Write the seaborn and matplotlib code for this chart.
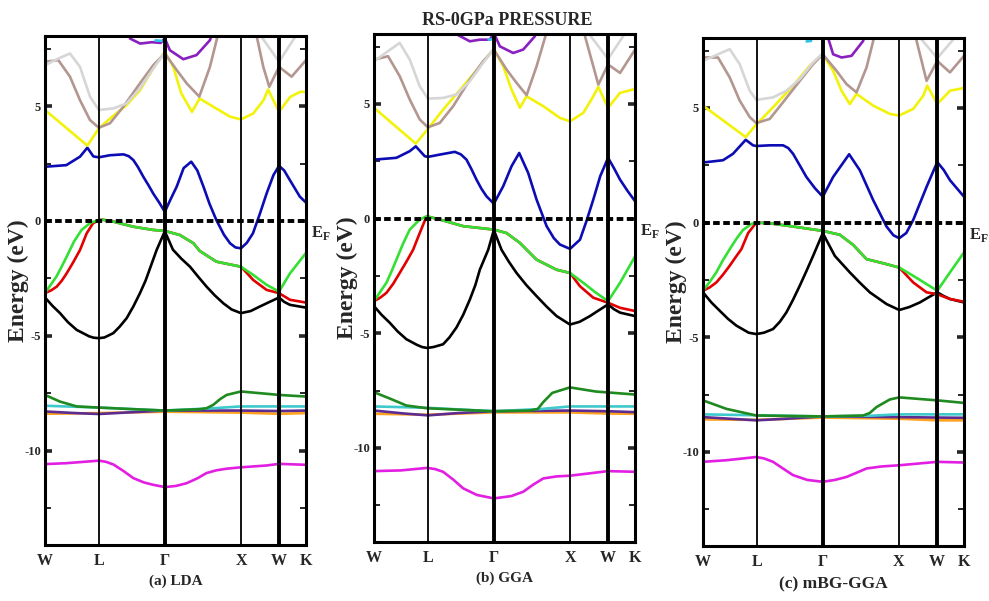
import numpy as np
import pandas as pd
import seaborn as sns
import matplotlib.pyplot as plt
from matplotlib.ticker import MultipleLocator
import matplotlib.transforms as mtransforms

# high symmetry points, path length along W-L-G-X-W-K (2pi/a units)
kpath_labels = ['W', 'L', 'Γ', 'X', 'W', 'K']
kpath_pos = [0.0, 0.707, 1.573, 2.573, 3.073, 3.427]
panel_titles = ['(a) LDA', '(b) GGA', '(c) mBG-GGA']
fig_title = 'RS-0GPa PRESSURE'

band_colors = {
    'magenta': '#e31ee3', 'orange': '#ffa21e', 'violet': '#5c2c92',
    'cyan': '#3ec9cc', 'dkgreen': '#1f8a1f', 'black': '#000000',
    'red': '#e30000', 'green': '#33e033', 'blue': '#0c0cb4',
    'yellow': '#f2f20a', 'brown': '#b39690', 'brown2': '#b39690',
    'gray': '#d6d6d6', 'gray2': '#d6d6d6', 'purple': '#8a1fbf',
    'cyantop': '#2ec6e8',
}

# ---------------- (a) LDA ----------------
lda_magenta = [(0, -10.58), (0.28, -10.54), (0.707, -10.43), (0.8, -10.48), (0.9, -10.6), (1.03, -10.88),
               (1.16, -11.19), (1.3, -11.38), (1.42, -11.48), (1.573, -11.58), (1.72, -11.53), (1.86, -11.41),
               (2.0, -11.2), (2.12, -10.97), (2.25, -10.85), (2.385, -10.78), (2.573, -10.72),
               (2.91, -10.64), (3.073, -10.57), (3.427, -10.61)]
lda_orange = [(0, -8.39), (0.707, -8.36), (1.573, -8.3), (2.573, -8.34), (3.073, -8.39), (3.427, -8.36)]
lda_violet = [(0, -8.29), (0.4, -8.36), (0.707, -8.4), (1.1, -8.33), (1.573, -8.25), (2.573, -8.25),
              (3.073, -8.27), (3.427, -8.25)]
lda_cyan = [(0, -8.04), (0.707, -8.12), (1.573, -8.25), (2.2, -8.15), (2.573, -8.07), (3.073, -8.07), (3.427, -8.07)]
lda_dkgreen = [(0, -7.57), (0.197, -7.86), (0.416, -8.07), (0.707, -8.12), (1.16, -8.19), (1.573, -8.25),
               (2.035, -8.19), (2.12, -8.15), (2.21, -8.0), (2.3, -7.75), (2.385, -7.57), (2.573, -7.42),
               (2.91, -7.52), (3.073, -7.57), (3.427, -7.64)]
lda_black = [(0, -3.33), (0.1, -3.7), (0.197, -4.01), (0.3, -4.4), (0.416, -4.74), (0.58, -5.02), (0.64, -5.08),
             (0.707, -5.1), (0.78, -5.07), (0.897, -4.88), (0.98, -4.6), (1.072, -4.23), (1.16, -3.72),
             (1.247, -3.14), (1.32, -2.6), (1.379, -2.06), (1.466, -1.26), (1.573, -0.45), (1.68, -1.25),
             (1.79, -1.64), (1.904, -1.99), (2.01, -2.42), (2.122, -2.86), (2.23, -3.24), (2.341, -3.58),
             (2.45, -3.85), (2.573, -4.01), (2.7, -3.92), (2.823, -3.72), (2.95, -3.52), (3.073, -3.33),
             (3.14, -3.52), (3.217, -3.65), (3.427, -3.77)]
lda_green = [(0, -3.14), (0.07, -2.8), (0.15, -2.42), (0.22, -1.98), (0.285, -1.55), (0.38, -0.9), (0.48, -0.39),
             (0.6, -0.07), (0.707, 0.03), (0.75, 0.06), (0.9, -0.03), (1.16, -0.25), (1.42, -0.39),
             (1.573, -0.43), (1.77, -0.61), (1.95, -0.97), (2.03, -1.3), (2.25, -1.77), (2.573, -1.99),
             (2.735, -2.35), (2.91, -2.78), (3.073, -3.07), (3.217, -2.28), (3.427, -1.39)]
lda_red_wl = [(0, -3.14), (0.08, -3.02), (0.153, -2.86), (0.22, -2.6), (0.284, -2.28), (0.37, -1.8),
              (0.46, -1.26), (0.547, -0.54), (0.63, -0.1), (0.707, 0.03)]
lda_red_xk = [(2.573, -1.99), (2.735, -2.57), (2.91, -3.0), (3.073, -3.14), (3.217, -3.43), (3.427, -3.55)]
lda_blue = [(0, 2.36), (0.28, 2.43), (0.46, 2.8), (0.556, 3.19), (0.635, 2.81), (0.707, 2.77), (0.85, 2.86),
            (1.03, 2.9), (1.1, 2.82), (1.16, 2.65), (1.22, 2.35), (1.29, 1.93), (1.36, 1.55), (1.42, 1.2),
            (1.5, 0.8), (1.573, 0.4), (1.65, 0.95), (1.73, 1.5), (1.82, 2.3), (1.92, 2.58), (2.0, 2.2),
            (2.08, 1.5), (2.16, 0.75), (2.25, 0.04), (2.35, -0.6), (2.43, -0.97), (2.5, -1.15),
            (2.573, -1.19), (2.65, -0.95), (2.73, -0.54), (2.82, 0.3), (2.91, 1.2), (3.0, 2.0), (3.073, 2.4),
            (3.14, 2.2), (3.215, 1.78), (3.346, 1.06), (3.427, 0.8)]
lda_yellow = [(0, 4.83), (0.556, 3.28), (0.707, 4.03), (0.85, 4.45), (1.07, 5.04), (1.25, 5.7), (1.42, 6.64),
              (1.573, 7.36), (1.685, 6.7), (1.79, 5.55), (1.93, 4.75), (2.03, 5.33), (2.21, 4.97), (2.43, 4.54),
              (2.573, 4.42), (2.735, 4.68), (2.87, 5.26), (2.93, 5.72), (3.073, 4.75), (3.22, 5.4), (3.35, 5.62),
              (3.427, 5.62)]
lda_brown = [(0, 6.93), (0.175, 7.0), (0.328, 6.28), (0.459, 5.26), (0.591, 4.39), (0.707, 4.06), (0.853, 4.25),
             (1.028, 4.97), (1.247, 5.99), (1.422, 6.78), (1.573, 7.29), (1.729, 6.57), (1.86, 5.99),
             (2.026, 5.41), (2.166, 6.71), (2.3, 8.5)]
lda_brown2 = [(2.75, 8.5), (2.866, 6.71), (2.945, 5.84), (3.073, 6.71), (3.238, 6.28), (3.427, 7.0)]
lda_gray = [(0, 6.78), (0.175, 7.07), (0.328, 7.29), (0.459, 6.71), (0.591, 5.41), (0.707, 4.83), (0.9, 4.9),
            (1.072, 5.12), (1.247, 5.77), (1.422, 6.64), (1.573, 7.33)]
lda_gray2 = [(2.74, 8.5), (3.073, 6.93), (3.38, 8.5)]
lda_purple = [(1.116, 7.94), (1.25, 7.72), (1.4, 7.78), (1.52, 7.75), (1.573, 7.95), (1.64, 7.43), (1.816, 7.04),
              (1.99, 7.22), (2.166, 7.87), (2.21, 8.3)]
lda_cyantop = [(1.45, 7.86), (1.53, 7.84)]

# ---------------- (b) GGA ----------------
gga_magenta = [(0, -11.01), (0.35, -10.98), (0.697, -10.87), (0.8, -10.92), (0.907, -11.04), (1.04, -11.38),
               (1.17, -11.76), (1.35, -12.05), (1.573, -12.2), (1.8, -12.1), (1.959, -11.91), (2.09, -11.6),
               (2.222, -11.33), (2.4, -11.24), (2.573, -11.21), (3.073, -11.01), (3.427, -11.04)]
gga_orange = [(0, -8.51), (0.707, -8.55), (1.573, -8.45), (2.573, -8.45), (3.073, -8.5), (3.427, -8.51)]
gga_violet = [(0, -8.37), (0.4, -8.5), (0.707, -8.58), (1.1, -8.48), (1.573, -8.4), (2.573, -8.37),
              (3.073, -8.4), (3.427, -8.44)]
gga_cyan = [(0, -8.19), (0.707, -8.25), (1.573, -8.4), (2.2, -8.3), (2.573, -8.19), (3.427, -8.19)]
gga_dkgreen = [(0, -7.57), (0.21, -7.85), (0.425, -8.15), (0.697, -8.27), (1.573, -8.4), (2.046, -8.37),
               (2.15, -8.3), (2.222, -8.0), (2.34, -7.6), (2.573, -7.36), (2.91, -7.54), (3.427, -7.67)]
gga_black = [(0, -3.82), (0.1, -4.2), (0.206, -4.54), (0.31, -4.92), (0.425, -5.26), (0.56, -5.5), (0.63, -5.6),
             (0.697, -5.64), (0.78, -5.6), (0.907, -5.48), (0.99, -5.18), (1.082, -4.75), (1.17, -4.2),
             (1.258, -3.53), (1.33, -2.9), (1.389, -2.23), (1.499, -1.36), (1.573, -0.5), (1.674, -1.36),
             (1.77, -1.88), (1.871, -2.37), (2.0, -2.9), (2.134, -3.38), (2.27, -3.85), (2.397, -4.25),
             (2.573, -4.62), (2.7, -4.5), (2.835, -4.25), (2.96, -3.98), (3.073, -3.74), (3.15, -3.95),
             (3.23, -4.1), (3.427, -4.25)]
gga_green = [(0, -3.6), (0.08, -3.2), (0.162, -2.8), (0.23, -2.3), (0.294, -1.79), (0.38, -1.1), (0.469, -0.48),
             (0.6, -0.04), (0.69, 0.1), (0.863, -0.04), (1.17, -0.33), (1.573, -0.48), (1.74, -0.63),
             (1.915, -1.06), (2.134, -1.79), (2.397, -2.23), (2.573, -2.37), (2.748, -2.8), (2.9, -3.2),
             (3.073, -3.6), (3.23, -2.8), (3.427, -1.65)]
gga_red_wl = [(0, -3.6), (0.08, -3.45), (0.162, -3.24), (0.25, -2.85), (0.337, -2.37), (0.43, -1.85),
              (0.513, -1.36), (0.6, -0.63), (0.69, 0.1)]
gga_red_xk = [(2.573, -2.37), (2.704, -2.95), (2.879, -3.45), (3.073, -3.67), (3.23, -3.89), (3.427, -4.03)]
gga_blue = [(0, 2.57), (0.294, 2.65), (0.469, 2.94), (0.548, 3.15), (0.666, 2.72), (0.707, 2.69), (0.863, 2.79),
            (1.06, 2.91), (1.14, 2.8), (1.214, 2.57), (1.28, 2.15), (1.345, 1.7), (1.41, 1.3), (1.477, 0.97),
            (1.573, 0.65), (1.696, 1.41), (1.805, 2.28), (1.906, 2.86), (2.024, 1.99), (2.134, 0.83),
            (2.266, -0.33), (2.36, -0.85), (2.44, -1.13), (2.573, -1.32), (2.704, -0.92), (2.79, -0.1),
            (2.879, 0.83), (2.97, 1.85), (3.073, 2.65), (3.15, 2.2), (3.23, 1.7), (3.33, 1.2), (3.427, 0.76)]
gga_yellow = [(0, 4.83), (0.548, 3.27), (0.707, 3.91), (0.907, 4.75), (1.17, 5.77), (1.389, 6.64), (1.573, 7.4),
              (1.696, 6.64), (1.805, 5.63), (1.915, 4.83), (2.003, 5.33), (2.222, 4.9), (2.441, 4.39),
              (2.573, 4.24), (2.748, 4.61), (2.879, 5.33), (2.945, 5.74), (3.073, 4.83), (3.23, 5.48),
              (3.427, 5.65)]
gga_brown = [(0, 6.93), (0.184, 7.08), (0.337, 6.21), (0.469, 5.19), (0.6, 4.32), (0.707, 3.98), (0.863, 4.17),
             (1.039, 4.9), (1.258, 6.06), (1.433, 6.86), (1.573, 7.37), (1.74, 6.5), (1.871, 5.92),
             (2.003, 5.38), (2.134, 6.64), (2.244, 7.88), (2.3, 8.5)]
gga_brown2 = [(2.74, 8.5), (2.77, 7.95), (2.879, 6.64), (2.945, 5.84), (3.073, 6.72), (3.23, 6.35), (3.427, 7.37)]
gga_gray = [(0, 6.86), (0.184, 7.3), (0.337, 7.66), (0.469, 6.93), (0.6, 5.77), (0.707, 5.23), (0.907, 5.26),
            (1.082, 5.41), (1.258, 5.99), (1.433, 6.79), (1.573, 7.41)]
gga_gray2 = [(2.72, 8.5), (3.073, 6.96), (3.38, 8.5)]
gga_purple = [(1.104, 8.0), (1.258, 7.73), (1.389, 7.8), (1.52, 7.8), (1.573, 8.1), (1.652, 7.51), (1.827, 7.22),
              (1.959, 7.37), (2.112, 7.95), (2.15, 8.3)]
gga_cyantop = [(1.5, 7.82), (1.56, 7.82)]

# ---------------- (c) mBJ ----------------
mbj_magenta = [(0, -10.43), (0.307, -10.36), (0.7, -10.22), (0.8, -10.28), (0.92, -10.43), (1.05, -10.72),
               (1.183, -11.01), (1.37, -11.22), (1.573, -11.3), (1.73, -11.22), (1.884, -11.09), (2.02, -10.9),
               (2.147, -10.72), (2.35, -10.63), (2.577, -10.58), (3.076, -10.43), (3.427, -10.46)]
mbj_orange = [(0, -8.58), (0.7, -8.6), (1.573, -8.5), (2.577, -8.55), (3.076, -8.62), (3.427, -8.62)]
mbj_violet = [(0, -8.48), (0.4, -8.56), (0.7, -8.62), (1.1, -8.55), (1.573, -8.45), (2.577, -8.48),
              (3.076, -8.5), (3.427, -8.51)]
mbj_cyan = [(0, -8.36), (0.7, -8.4), (1.573, -8.45), (2.2, -8.42), (2.577, -8.36), (3.427, -8.36)]
mbj_dkgreen = [(0, -7.75), (0.307, -8.12), (0.7, -8.41), (1.573, -8.45), (2.103, -8.41), (2.19, -8.3),
               (2.279, -8.04), (2.454, -7.71), (2.577, -7.62), (3.076, -7.75), (3.427, -7.86)]
mbj_black = [(0, -3.04), (0.11, -3.48), (0.219, -3.84), (0.33, -4.2), (0.438, -4.49), (0.6, -4.8), (0.7, -4.86),
             (0.8, -4.8), (0.92, -4.64), (1.01, -4.32), (1.096, -3.91), (1.18, -3.38), (1.271, -2.75),
             (1.36, -2.1), (1.446, -1.45), (1.573, -0.46), (1.731, -1.45), (1.928, -2.17), (2.06, -2.62),
             (2.191, -3.04), (2.41, -3.55), (2.577, -3.81), (2.71, -3.68), (2.848, -3.48), (2.96, -3.26),
             (3.076, -3.04), (3.16, -3.2), (3.243, -3.33), (3.427, -3.48)]
mbj_green = [(0, -2.97), (0.085, -2.6), (0.175, -2.17), (0.26, -1.65), (0.351, -1.16), (0.44, -0.7),
             (0.526, -0.32), (0.636, -0.06), (0.7, 0.0), (0.876, -0.03), (1.183, -0.17), (1.573, -0.36),
             (1.797, -0.53), (1.972, -0.97), (2.147, -1.59), (2.41, -1.81), (2.577, -1.96), (2.761, -2.32),
             (3.076, -2.97), (3.243, -2.17), (3.427, -1.3)]
mbj_red_wl = [(0, -2.97), (0.09, -2.82), (0.175, -2.61), (0.26, -2.28), (0.351, -1.88), (0.43, -1.5),
              (0.504, -1.16), (0.592, -0.46), (0.7, 0.0)]
mbj_red_xk = [(2.577, -1.96), (2.761, -2.61), (2.936, -3.04), (3.076, -3.12), (3.243, -3.33), (3.427, -3.45)]
mbj_blue = [(0, 2.62), (0.263, 2.72), (0.394, 3.0), (0.561, 3.61), (0.657, 3.37), (0.7, 3.34), (0.876, 3.37),
            (1.052, 3.37), (1.12, 3.25), (1.183, 3.0), (1.27, 2.5), (1.358, 1.99), (1.47, 1.5), (1.573, 1.13),
            (1.709, 1.99), (1.919, 2.98), (2.06, 2.28), (2.235, 0.98), (2.41, -0.17), (2.5, -0.55),
            (2.577, -0.68), (2.67, -0.45), (2.761, 0.12), (2.936, 1.56), (3.076, 2.64), (3.16, 2.3),
            (3.243, 1.85), (3.427, 1.13)]
mbj_yellow = [(0, 5.1), (0.561, 3.73), (0.7, 4.28), (0.92, 5.03), (1.183, 5.97), (1.402, 6.84), (1.573, 7.34),
              (1.709, 6.62), (1.819, 5.75), (1.928, 5.17), (2.016, 5.61), (2.235, 5.1), (2.454, 4.74),
              (2.577, 4.67), (2.761, 4.96), (2.892, 5.53), (2.945, 5.97), (3.076, 5.17), (3.243, 5.75),
              (3.427, 5.87)]
mbj_brown = [(0, 7.2), (0.197, 7.2), (0.351, 6.33), (0.482, 5.32), (0.614, 4.6), (0.7, 4.34), (0.876, 4.52),
             (1.052, 5.25), (1.271, 6.18), (1.446, 6.91), (1.573, 7.34), (1.753, 6.62), (1.884, 6.04),
             (2.016, 5.68), (2.147, 6.76), (2.235, 7.92), (2.28, 8.5)]
mbj_brown2 = [(2.77, 8.5), (2.805, 7.92), (2.936, 6.18), (3.076, 7.05), (3.243, 6.55), (3.427, 7.27)]
mbj_gray = [(0, 7.05), (0.197, 7.34), (0.351, 7.56), (0.482, 6.91), (0.614, 5.75), (0.7, 5.35), (0.92, 5.46),
            (1.096, 5.75), (1.271, 6.26), (1.446, 6.98), (1.573, 7.38)]
mbj_gray2 = [(2.74, 8.5), (3.076, 7.17), (3.42, 8.5)]
mbj_purple = [(1.62, 8.3), (1.709, 7.34), (1.819, 7.2), (1.95, 7.27), (2.103, 7.92), (2.13, 8.3)]
mbj_cyantop = [(1.36, 7.9), (1.42, 7.92)]


def red_band(red_wl, green, red_xk):
    # red is degenerate with green between L and X
    mid = [p for p in green if red_wl[-1][0] < p[0] < red_xk[0][0]]
    return red_wl + mid + red_xk


panels = [
    [('magenta', lda_magenta), ('orange', lda_orange), ('violet', lda_violet), ('cyan', lda_cyan),
     ('dkgreen', lda_dkgreen), ('black', lda_black), ('red', red_band(lda_red_wl, lda_green, lda_red_xk)),
     ('green', lda_green), ('blue', lda_blue), ('yellow', lda_yellow), ('brown', lda_brown),
     ('brown2', lda_brown2), ('gray', lda_gray), ('gray2', lda_gray2), ('purple', lda_purple),
     ('cyantop', lda_cyantop)],
    [('magenta', gga_magenta), ('orange', gga_orange), ('violet', gga_violet), ('cyan', gga_cyan),
     ('dkgreen', gga_dkgreen), ('black', gga_black), ('red', red_band(gga_red_wl, gga_green, gga_red_xk)),
     ('green', gga_green), ('blue', gga_blue), ('yellow', gga_yellow), ('brown', gga_brown),
     ('brown2', gga_brown2), ('gray', gga_gray), ('gray2', gga_gray2), ('purple', gga_purple),
     ('cyantop', gga_cyantop)],
    [('magenta', mbj_magenta), ('orange', mbj_orange), ('violet', mbj_violet), ('cyan', mbj_cyan),
     ('dkgreen', mbj_dkgreen), ('black', mbj_black), ('red', red_band(mbj_red_wl, mbj_green, mbj_red_xk)),
     ('green', mbj_green), ('blue', mbj_blue), ('yellow', mbj_yellow), ('brown', mbj_brown),
     ('brown2', mbj_brown2), ('gray', mbj_gray), ('gray2', mbj_gray2), ('purple', mbj_purple),
     ('cyantop', mbj_cyantop)],
]

sns.set_style('white')
plt.rcParams['font.family'] = ['Liberation Serif', 'DejaVu Serif']
plt.rcParams['font.weight'] = 'bold'
plt.rcParams['axes.unicode_minus'] = False
plt.rcParams['mathtext.fontset'] = 'custom'
plt.rcParams['mathtext.rm'] = 'Liberation Serif:bold'
plt.rcParams['mathtext.bf'] = 'Liberation Serif:bold'

fig = plt.figure(figsize=(9.89, 6.01), dpi=100)
fig.patch.set_facecolor('white')
ax_rects = [[0.0455, 0.0932, 0.2639, 0.8469],
            [0.3782, 0.0982, 0.2639, 0.8453],
            [0.7108, 0.0915, 0.2639, 0.8453]]
title_sizes = [11, 11, 12.5]

for i, bands in enumerate(panels):
    ax = fig.add_axes(ax_rects[i])
    rows = [(name, k, e) for name, pts in bands for k, e in pts]
    df = pd.DataFrame(rows, columns=['band', 'k', 'E'])
    sns.lineplot(data=df, x='k', y='E', hue='band', palette=band_colors, estimator=None,
                 sort=False, legend=False, linewidth=1.9, ax=ax, zorder=2)

    ax.set_xlim(kpath_pos[0], kpath_pos[-1])
    ax.set_ylim(-14.1, 8.05)
    for j, kp in enumerate(kpath_pos[1:-1]):
        lw = 2.8 if kpath_labels[j + 1] in ('Γ', 'W') else 1.3
        ax.axvline(kp, color='black', lw=lw, zorder=3)
    ax.axhline(0, color='black', lw=2.8, ls=(0, (1.7, 0.9)), zorder=4)

    for s in ax.spines.values():
        s.set_linewidth(2.2)
        s.set_color('black')

    ax.yaxis.set_major_locator(MultipleLocator(5))
    ax.yaxis.set_minor_locator(MultipleLocator(2.5))
    ax.tick_params(axis='y', which='major', direction='in', left=True, right=True,
                   length=5, width=2.6, labelsize=9, pad=3)
    ax.tick_params(axis='y', which='minor', direction='in', left=True, right=True,
                   length=4, width=1.4)
    ax.set_xticks(kpath_pos)
    ax.set_xticklabels(kpath_labels)
    ax.tick_params(axis='x', length=0, labelsize=11.5, pad=6)
    for lab in ax.get_xticklabels() + ax.get_yticklabels():
        lab.set_fontweight('bold')

    ax.set_xlabel(panel_titles[i], fontsize=title_sizes[i], fontweight='bold', labelpad=4)
    ax.set_ylabel('Energy (eV)', fontsize=17, fontweight='bold')
    ax.yaxis.set_label_coords(-0.062, 0.52)

    trans = mtransforms.blended_transform_factory(ax.transAxes, ax.transData)
    ax.text(1.02, -0.15, r'E$_\mathbf{F}$', transform=trans, ha='left', va='top',
            fontsize=12, fontweight='bold', clip_on=False)

fig.text(0.513, 0.966, fig_title, ha='center', va='center', fontsize=13, fontweight='bold')

fig.savefig('out.png', dpi=100, facecolor='white')
